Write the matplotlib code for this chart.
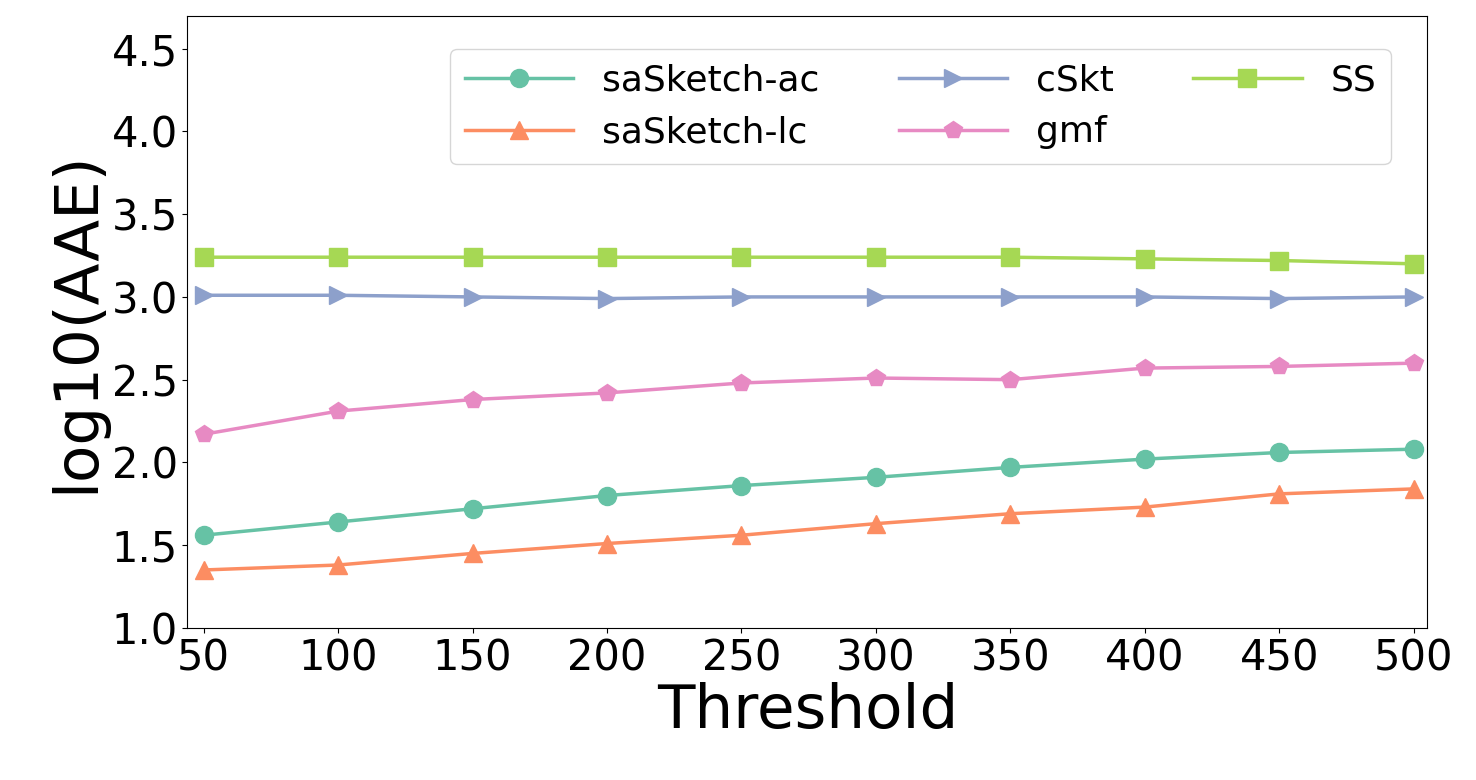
import matplotlib
matplotlib.use("Agg")
import matplotlib.pyplot as plt

thresholds = [50, 100, 150, 200, 250, 300, 350, 400, 450, 500]
sa_ac = [1.56, 1.64, 1.72, 1.80, 1.86, 1.91, 1.97, 2.02, 2.06, 2.08]
sa_lc = [1.35, 1.38, 1.45, 1.51, 1.56, 1.63, 1.69, 1.73, 1.81, 1.84]
cskt = [3.01, 3.01, 3.00, 2.99, 3.00, 3.00, 3.00, 3.00, 2.99, 3.00]
gmf = [2.17, 2.31, 2.38, 2.42, 2.48, 2.51, 2.50, 2.57, 2.58, 2.60]
ss = [3.24, 3.24, 3.24, 3.24, 3.24, 3.24, 3.24, 3.23, 3.22, 3.20]

series = [
    ("saSketch-ac", sa_ac, "o", "#66c2a5"),
    ("saSketch-lc", sa_lc, "^", "#fc8d62"),
    ("cSkt", cskt, ">", "#8da0cb"),
    ("gmf", gmf, "p", "#e78ac3"),
    ("SS", ss, "s", "#a6d854"),
]

fig, ax = plt.subplots(figsize=(14.76, 7.8), dpi=100)
for nome, vals, mk, cor in series:
    ax.plot(thresholds, vals, marker=mk, color=cor, label=nome,
            linewidth=2.5, markersize=13)

ax.set_xlim(44, 505)
ax.set_ylim(1.0, 4.7)
ax.set_xticks(thresholds)
ax.set_yticks([1.0, 1.5, 2.0, 2.5, 3.0, 3.5, 4.0, 4.5])
ax.tick_params(labelsize=30)
ax.set_xlabel("Threshold", fontsize=44, labelpad=2)
ax.set_ylabel("log10(AAE)", fontsize=44)
ax.legend(ncol=3, fontsize=26, loc="upper right", columnspacing=2.2,
          handlelength=3.0, bbox_to_anchor=(0.985, 0.975))

plt.subplots_adjust(left=0.127, right=0.967, top=0.98, bottom=0.195)
plt.savefig("out.png")
